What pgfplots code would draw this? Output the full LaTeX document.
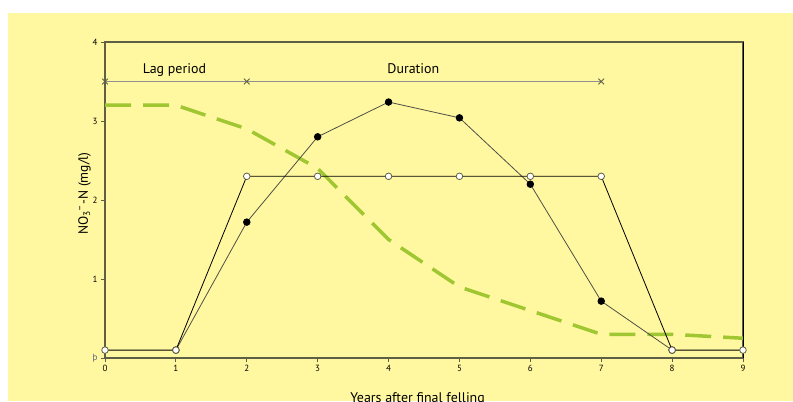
\documentclass[border=0pt]{standalone}
\usepackage{pgfplots}
\pgfplotsset{compat=1.18}
\usepackage{fontspec}
\setmainfont{PT Sans}
\definecolor{bg}{RGB}{255,248,160}
\definecolor{axc}{RGB}{95,95,70}
\definecolor{grn}{RGB}{160,198,50}
\definecolor{lagc}{RGB}{145,145,145}
\definecolor{odd}{RGB}{90,90,130}
\begin{document}
\begin{tikzpicture}[x=1bp,y=1bp]
\useasboundingbox (-105,-43) rectangle (688,358);
\clip (-105,-43) rectangle (688,358);
\fill[white] (-105,-43) rectangle (688,358);
\fill[bg] (-97,-43) rectangle (688,345);
\begin{axis}[
  at={(0,0)}, anchor=south west,
  scale only axis, width=638bp, height=316bp,
  xmin=0, xmax=9, ymin=0, ymax=4,
  xtick={0,...,9}, ytick={0,...,4},
  xtick pos=bottom, ytick pos=left,
  yticklabels={\textcolor{odd}{þ},1,2,3,4},
  tick align=outside, major tick length=4bp,
  tick style={axc, line width=0.8bp},
  axis line style={axc, line width=1.2bp},
  /pgf/number format/assume math mode=true,
  tick label style={font=\fontsize{9}{10}\selectfont},
  every axis y label/.style={at={(axis description cs:-0.032,0.52)}, rotate=90, anchor=center, font=\fontsize{13.5}{16}\selectfont},
  every axis x label/.style={at={(axis description cs:0.49,0)}, yshift=-34bp, anchor=north, inner sep=0pt, font=\fontsize{14}{16}\selectfont},
  xlabel={Years after final felling},
  ylabel={NO\textsubscript{3}\textsuperscript{–}-N (mg/l)},
  clip=false,
]
% green dashed curve
\addplot[grn, line width=3.5bp, dash pattern=on 26bp off 12bp] coordinates {
(0,3.2)(1,3.2)(2,2.9)(3,2.4)(4,1.5)(5,0.9)(6,0.6)(7,0.3)(8,0.3)(9,0.25)};
% lag / duration line
\addplot[lagc, line width=1.8bp, mark=x, mark size=4bp, mark options={solid, draw=axc, line width=0.9bp}] coordinates {
(0,3.5)(2,3.5)(7,3.5)};
\node[anchor=base, font=\fontsize{14}{16}\selectfont] at (axis cs:0.98,3.6) {Lag period};
\node[anchor=base, font=\fontsize{14}{16}\selectfont] at (axis cs:4.35,3.6) {Duration};
% filled circles series
\addplot[color={rgb,255:red,80;green,80;blue,70}, line width=0.8bp, mark=*, mark size=3.3bp, mark options={fill=black, draw=black}] coordinates {
(1,0.1)(2,1.72)(3,2.8)(4,3.24)(5,3.04)(6,2.2)(7,0.72)(8,0.1)};
% open circles series
\addplot[black, line width=0.8bp, mark=*, mark size=3.3bp, mark options={fill=white, draw=axc, line width=0.8bp}] coordinates {
(0,0.1)(1,0.1)(2,2.3)(3,2.3)(4,2.3)(5,2.3)(6,2.3)(7,2.3)(8,0.1)(9,0.1)};
\draw[black, line width=0.9bp] (rel axis cs:1,0) -- (rel axis cs:1,1);
\end{axis}
\end{tikzpicture}
\end{document}
